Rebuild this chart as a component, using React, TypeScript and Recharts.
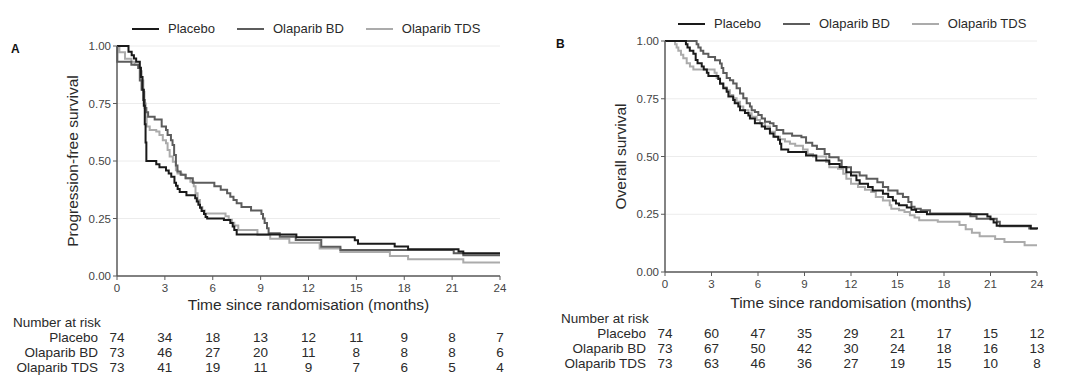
import React from "react";
import { LineChart, Line, XAxis, YAxis, CartesianGrid } from "recharts";

const FONT = 'Arial, "Liberation Sans", Helvetica, sans-serif';

const MONTH_TICKS = [0, 3, 6, 9, 12, 15, 18, 21, 24];
const SURV_TICKS = [0, 0.25, 0.5, 0.75, 1];
const ARMS = ["Placebo", "Olaparib BD", "Olaparib TDS"];
const ARM_COLORS = ["#1a1a1a", "#5c5c5c", "#ababab"];

// progression-free survival, [month, survival] steps
const PFS_PLACEBO: [number, number][] = [
  [0, 1], [0.72, 0.975], [0.92, 0.96], [1.06, 0.946], [1.2, 0.932], [1.43, 0.905],
  [1.5, 0.865], [1.6, 0.81], [1.68, 0.74], [1.74, 0.66], [1.79, 0.58], [1.84, 0.5],
  [2.46, 0.486], [2.66, 0.473], [3.07, 0.459], [3.24, 0.446], [3.4, 0.432], [3.6, 0.405],
  [3.7, 0.392], [3.8, 0.378], [3.93, 0.365], [4.35, 0.351], [4.9, 0.338], [5.0, 0.324],
  [5.1, 0.31], [5.2, 0.297], [5.3, 0.283], [5.45, 0.27], [5.55, 0.257], [5.65, 0.25],
  [6.7, 0.243], [7.1, 0.23], [7.25, 0.215], [7.35, 0.2], [7.5, 0.18], [11.24, 0.168],
  [14.9, 0.155], [15.1, 0.14], [17.4, 0.128], [18.24, 0.116], [21.4, 0.106], [21.7, 0.099],
  [24, 0.099],
];
const PFS_BD: [number, number][] = [
  [0, 1], [0.02, 0.932], [0.9, 0.918], [1.33, 0.904], [1.43, 0.85], [1.54, 0.81],
  [1.64, 0.765], [1.74, 0.73], [1.84, 0.712], [1.95, 0.692], [2.36, 0.68], [2.8, 0.65],
  [3.07, 0.635], [3.17, 0.613], [3.38, 0.59], [3.48, 0.57], [3.58, 0.526], [3.69, 0.48],
  [3.79, 0.454], [3.99, 0.44], [4.3, 0.425], [4.75, 0.405], [6.1, 0.39], [6.5, 0.375],
  [6.9, 0.36], [7.1, 0.345], [7.3, 0.33], [7.5, 0.316], [7.8, 0.3], [8.4, 0.285],
  [9.05, 0.27], [9.15, 0.25], [9.25, 0.23], [9.4, 0.208], [9.5, 0.186], [10.2, 0.171],
  [11.2, 0.156], [12.8, 0.127], [14.0, 0.113], [21.1, 0.099], [21.7, 0.09], [24, 0.09],
];
const PFS_TDS: [number, number][] = [
  [0, 1], [0.15, 0.973], [0.5, 0.945], [0.9, 0.932], [1.1, 0.918], [1.35, 0.904],
  [1.45, 0.89], [1.55, 0.85], [1.65, 0.8], [1.72, 0.75], [1.8, 0.69], [1.86, 0.65],
  [2.05, 0.635], [2.46, 0.628], [2.66, 0.613], [2.87, 0.59], [3.07, 0.577], [3.17, 0.548],
  [3.3, 0.52], [3.5, 0.497], [3.69, 0.46], [3.79, 0.446], [4.05, 0.44], [4.3, 0.425],
  [4.6, 0.41], [4.81, 0.39], [4.92, 0.36], [5.05, 0.33], [5.2, 0.3], [5.35, 0.285],
  [5.5, 0.272], [6.8, 0.26], [7.0, 0.245], [7.2, 0.232], [7.35, 0.22], [7.6, 0.2],
  [8.8, 0.178], [9.6, 0.162], [10.8, 0.145], [12.7, 0.12], [14.0, 0.104], [17.1, 0.087],
  [18.24, 0.073], [21.7, 0.059], [24, 0.059],
];

// overall survival
const OS_PLACEBO: [number, number][] = [
  [0, 1], [1.35, 0.986], [1.45, 0.972], [1.6, 0.958], [1.83, 0.945], [1.98, 0.918],
  [2.1, 0.904], [2.37, 0.89], [2.5, 0.877], [2.7, 0.863], [2.8, 0.849], [3.44, 0.836],
  [3.55, 0.815], [3.76, 0.795], [3.98, 0.78], [4.09, 0.76], [4.4, 0.745], [4.5, 0.73],
  [4.73, 0.716], [4.84, 0.7], [5.16, 0.688], [5.38, 0.678], [5.48, 0.665], [5.8, 0.644],
  [6.24, 0.63], [6.45, 0.62], [6.77, 0.6], [7.0, 0.586], [7.3, 0.572], [7.42, 0.555],
  [7.5, 0.53], [7.95, 0.519], [9.1, 0.504], [9.76, 0.483], [10.6, 0.468], [11.27, 0.455],
  [11.7, 0.432], [12.0, 0.418], [12.35, 0.397], [12.56, 0.382], [13.1, 0.368], [13.4, 0.353],
  [14.06, 0.339], [14.4, 0.325], [14.7, 0.31], [14.9, 0.296], [15.1, 0.289], [15.6, 0.279],
  [15.9, 0.27], [16.2, 0.26], [16.9, 0.25], [20.8, 0.24], [21.0, 0.228], [21.2, 0.214],
  [21.4, 0.2], [23.6, 0.188], [24, 0.185],
];
const OS_BD: [number, number][] = [
  [0, 1], [2.04, 0.986], [2.15, 0.972], [2.3, 0.958], [2.47, 0.945], [2.8, 0.931],
  [3.23, 0.917], [3.55, 0.903], [3.66, 0.883], [3.76, 0.862], [3.98, 0.84], [4.19, 0.83],
  [4.4, 0.816], [4.62, 0.795], [4.84, 0.773], [5.05, 0.752], [5.27, 0.73], [5.48, 0.716],
  [5.59, 0.7], [5.8, 0.693], [6.02, 0.68], [6.24, 0.665], [6.45, 0.65], [6.77, 0.644],
  [7.0, 0.632], [7.2, 0.615], [7.63, 0.6], [8.2, 0.59], [8.8, 0.583], [9.1, 0.56],
  [9.5, 0.547], [9.8, 0.533], [10.3, 0.511], [10.6, 0.497], [11.2, 0.483], [11.4, 0.454],
  [12.0, 0.432], [12.56, 0.418], [13.0, 0.404], [13.7, 0.389], [14.06, 0.368], [14.4, 0.353],
  [15.0, 0.339], [15.35, 0.325], [15.7, 0.303], [15.9, 0.282], [16.1, 0.274], [16.5, 0.267],
  [17.1, 0.253], [19.7, 0.241], [20.1, 0.231], [21.4, 0.217], [21.6, 0.198], [23.5, 0.188],
  [24, 0.185],
];
const OS_TDS: [number, number][] = [
  [0, 1], [0.65, 0.986], [0.75, 0.972], [0.86, 0.958], [1.03, 0.94], [1.18, 0.925],
  [1.4, 0.904], [1.61, 0.89], [1.83, 0.877], [3.2, 0.863], [3.33, 0.84], [3.55, 0.818],
  [3.76, 0.8], [3.98, 0.787], [4.19, 0.766], [4.4, 0.752], [4.62, 0.737], [4.84, 0.716],
  [5.05, 0.7], [5.38, 0.687], [5.59, 0.672], [5.91, 0.658], [6.13, 0.644], [6.45, 0.63],
  [6.77, 0.607], [7.1, 0.586], [7.42, 0.575], [7.74, 0.565], [8.06, 0.555], [8.4, 0.547],
  [8.9, 0.53], [9.2, 0.511], [9.55, 0.5], [10.4, 0.476], [10.6, 0.454], [11.16, 0.447],
  [11.5, 0.425], [11.7, 0.404], [12.0, 0.382], [12.45, 0.368], [12.9, 0.356], [13.3, 0.346],
  [13.6, 0.325], [14.06, 0.31], [14.5, 0.289], [14.6, 0.274], [15.1, 0.267], [15.45, 0.26],
  [15.8, 0.246], [16.1, 0.236], [16.4, 0.224], [17.6, 0.217], [19.0, 0.203], [19.4, 0.185],
  [19.8, 0.17], [20.3, 0.155], [21.3, 0.143], [21.9, 0.13], [23.2, 0.116], [24, 0.116],
];

// number at risk
const PFS_RISK_PLACEBO = [74, 34, 18, 13, 12, 11, 9, 8, 7];
const PFS_RISK_BD = [73, 46, 27, 20, 11, 8, 8, 8, 6];
const PFS_RISK_TDS = [73, 41, 19, 11, 9, 7, 6, 5, 4];
const OS_RISK_PLACEBO = [74, 60, 47, 35, 29, 21, 17, 15, 12];
const OS_RISK_BD = [73, 67, 50, 42, 30, 24, 18, 16, 13];
const OS_RISK_TDS = [73, 63, 46, 36, 27, 19, 15, 10, 8];

const toRows = (pairs: [number, number][]) => pairs.map(([t, s]) => ({ t, s }));

const AXIS_LINE = { stroke: "#5a5a5a", strokeWidth: 1.5 };
const TEXT_COL = "#2a2a2a";

type PanelProps = {
  letter: string;
  yTitle: string;
  curves: [number, number][][];
  atRisk: number[][];
  left: number;
  margin: { top: number; right: number; bottom: number; left: number };
  titleOffset: number;
  legendPos: { left: number; top: number };
  letterPos: { left: number; top: number };
};

function KmPanel({ letter, yTitle, curves, atRisk, left, margin, titleOffset, legendPos, letterPos }: PanelProps) {
  const order = [2, 1, 0]; // placebo drawn last so it sits on top
  return (
    <div style={{ position: "absolute", left, top: 0, width: 540, height: 380 }}>
      <div style={{ position: "absolute", ...letterPos, fontSize: 12, fontWeight: 700, color: "#111" }}>{letter}</div>
      <div style={{ position: "absolute", ...legendPos, display: "flex", alignItems: "center", fontSize: 13, color: TEXT_COL, lineHeight: "16px" }}>
        {ARMS.map((name, i) => (
          <div key={name} style={{ display: "flex", alignItems: "center", marginRight: 22 }}>
            <span style={{ display: "inline-block", width: 27, height: 2.5, background: ARM_COLORS[i], marginRight: 9 }} />
            <span>{name}</span>
          </div>
        ))}
      </div>
      <LineChart width={540} height={380} margin={margin}>
        <CartesianGrid vertical={false} stroke="#ececec" />
        <XAxis
          type="number"
          dataKey="t"
          domain={[0, 24]}
          ticks={MONTH_TICKS}
          interval={0}
          height={54}
          axisLine={AXIS_LINE}
          tickLine={{ stroke: "#5a5a5a" }}
          tickSize={4}
          tickMargin={4}
          tick={{ fontSize: 11.5, fill: "#444" }}
          label={{ value: "Time since randomisation (months)", position: "insideBottom", offset: titleOffset, fontSize: 15.5, fill: TEXT_COL }}
        />
        {atRisk.map((counts, i) => (
          <XAxis
            key={ARMS[i]}
            xAxisId={`risk${i}`}
            type="number"
            dataKey="t"
            domain={[0, 24]}
            allowDataOverflow
            ticks={MONTH_TICKS}
            interval={0}
            height={15}
            axisLine={false}
            tickLine={false}
            tickSize={0}
            tickMargin={0}
            tick={(p: any) => (
              <text x={p.x} y={p.y + 7.5} textAnchor="middle" dominantBaseline="central" fontSize={13.5} fill={TEXT_COL}>
                {counts[MONTH_TICKS.indexOf(p.payload.value)]}
              </text>
            )}
            label={(p: any) => {
              const vb = p.viewBox;
              return (
                <g>
                  {i === 0 && (
                    <text x={vb.x - 104} y={vb.y - 8} dominantBaseline="central" fontSize={13.5} fill={TEXT_COL}>
                      Number at risk
                    </text>
                  )}
                  <text x={vb.x - 19} y={vb.y + 7.5} textAnchor="end" dominantBaseline="central" fontSize={13.5} fill={TEXT_COL}>
                    {ARMS[i]}
                  </text>
                </g>
              );
            }}
          />
        ))}
        <YAxis
          type="number"
          domain={[0, 1]}
          ticks={SURV_TICKS}
          width={60}
          axisLine={AXIS_LINE}
          tickLine={{ stroke: "#5a5a5a" }}
          tickSize={4}
          tickMargin={2}
          tick={{ fontSize: 11.5, fill: "#444" }}
          tickFormatter={(v: number) => v.toFixed(2)}
          label={{ value: yTitle, angle: -90, position: "insideLeft", offset: 15, fontSize: 15.5, fill: TEXT_COL, style: { textAnchor: "middle" } }}
        />
        {order.map((i) => (
          <Line
            key={ARMS[i]}
            name={ARMS[i]}
            data={toRows(curves[i])}
            dataKey="s"
            type="stepAfter"
            stroke={ARM_COLORS[i]}
            strokeWidth={2}
            dot={false}
            isAnimationActive={false}
          />
        ))}
      </LineChart>
    </div>
  );
}

export default function App() {
  return (
    <div style={{ position: "absolute", left: 0, top: 0, width: 1080, height: 380, background: "#fff", fontFamily: FONT }}>
      <KmPanel
        letter="A"
        yTitle="Progression-free survival"
        curves={[PFS_PLACEBO, PFS_BD, PFS_TDS]}
        atRisk={[PFS_RISK_PLACEBO, PFS_RISK_BD, PFS_RISK_TDS]}
        left={0}
        margin={{ top: 46, right: 40, bottom: 5, left: 57 }}
        titleOffset={20}
        legendPos={{ left: 132, top: 21 }}
        letterPos={{ left: 11, top: 42 }}
      />
      <KmPanel
        letter="B"
        yTitle="Overall survival"
        curves={[OS_PLACEBO, OS_BD, OS_TDS]}
        atRisk={[OS_RISK_PLACEBO, OS_RISK_BD, OS_RISK_TDS]}
        left={540}
        margin={{ top: 41, right: 43, bottom: 9, left: 65 }}
        titleOffset={18.5}
        legendPos={{ left: 138, top: 16 }}
        letterPos={{ left: 16, top: 37 }}
      />
    </div>
  );
}
